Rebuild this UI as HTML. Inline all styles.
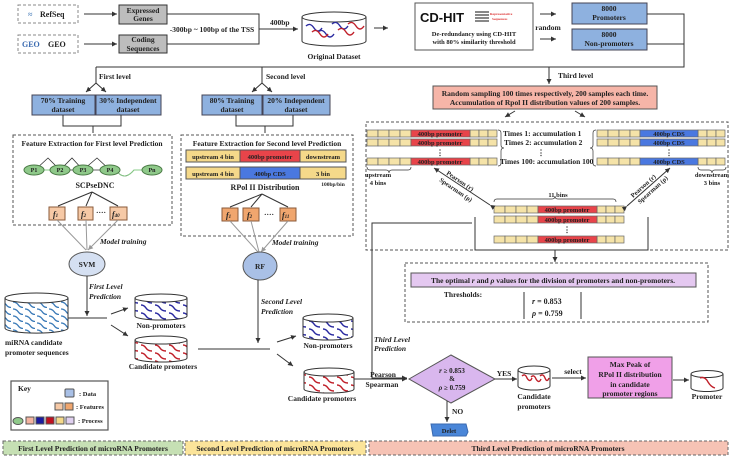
<!DOCTYPE html>
<html><head><meta charset="utf-8"><style>
html,body{margin:0;padding:0;background:#fff;}
svg{display:block;font-family:"Liberation Serif",serif;font-weight:bold;}
</style></head><body>
<svg width="733" height="460" viewBox="0 0 733 460" xmlns="http://www.w3.org/2000/svg">
<defs>
<marker id="a" markerWidth="6" markerHeight="6" refX="5" refY="3" orient="auto"><path d="M0,0.5 L5,3 L0,5.5 Z" fill="#333"/></marker>
<marker id="g" markerWidth="6" markerHeight="6" refX="5" refY="3" orient="auto"><path d="M0,0.5 L5,3 L0,5.5 Z" fill="#999"/></marker>
<pattern id="wb" width="14" height="8" patternUnits="userSpaceOnUse"><path d="M1,1 q3,0 5,3 q2,3 6,3" stroke="#2a2aa0" stroke-width="1.5" fill="none"/></pattern>
<pattern id="wr" width="14" height="8" patternUnits="userSpaceOnUse"><path d="M1,1 q3,0 5,3 q2,3 6,3" stroke="#c0202a" stroke-width="1.5" fill="none"/></pattern>
<pattern id="wl" width="12" height="7" patternUnits="userSpaceOnUse"><path d="M1,1 q3,0 5,2.5 q2,3 5,3" stroke="#3a7ab8" stroke-width="1.3" fill="none"/></pattern>
</defs>
<g font-size="7.5" fill="#222">
<!-- top sources -->
<rect x="18" y="5" width="60" height="18" fill="none" stroke="#888" stroke-dasharray="3,2"/>
<text x="28" y="17" fill="#5a8ac0" font-size="8">≈</text><text x="40" y="17" font-size="8">RefSeq</text>
<rect x="18" y="35" width="60" height="18" fill="none" stroke="#888" stroke-dasharray="3,2"/>
<text x="22" y="47" fill="#3a6ab0" font-size="8">GEO</text><text x="48" y="47" font-size="8">GEO</text>
<line x1="84" y1="14" x2="117" y2="14" stroke="#333" marker-end="url(#a)"/>
<line x1="84" y1="44" x2="117" y2="44" stroke="#333" marker-end="url(#a)"/>
<rect x="119" y="5" width="48" height="19" fill="#bdbdbd" stroke="#333"/>
<text x="143" y="13" text-anchor="middle">Expressed</text><text x="143" y="21" text-anchor="middle">Genes</text>
<rect x="119" y="35" width="48" height="18" fill="#bdbdbd" stroke="#333"/>
<text x="143" y="42" text-anchor="middle">Coding</text><text x="143" y="51" text-anchor="middle">Sequences</text>
<path d="M167,14 H259 V44 H167" fill="none" stroke="#333"/>
<rect x="168" y="25" width="90" height="9" fill="#fff"/>
<text x="212" y="32" text-anchor="middle">-300bp ~ 100bp of the TSS</text>
<line x1="259" y1="29" x2="298" y2="29" stroke="#333" marker-end="url(#a)"/>
<text x="270" y="25">400bp</text>
<!-- original dataset cylinder -->
<path d="M302,17 V41 A32,5 0 0 0 366,41 V17" fill="#fff" stroke="#333"/>
<ellipse cx="334" cy="17" rx="32" ry="5" fill="#fff" stroke="#333"/>
<path d="M306,26 q4,-4 8,2 q4,6 8,0 M318,32 q4,-4 8,2 q4,6 8,0 M332,24 q4,-4 8,2 q4,6 8,0" stroke="#2a2aa0" stroke-width="1.4" fill="none"/>
<path d="M312,32 q4,-4 8,2 q4,6 8,0 M338,30 q4,-4 8,2 q4,6 8,0 M348,24 q4,-4 8,2 q4,6 8,0" stroke="#c0202a" stroke-width="1.4" fill="none"/>
<text x="334" y="59" text-anchor="middle">Original Dataset</text>
<line x1="374" y1="28" x2="388" y2="28" stroke="#333" marker-end="url(#a)"/>
<!-- CD-HIT -->
<rect x="415" y="3" width="118" height="47" fill="#fff" stroke="#555"/>
<text x="420" y="22" font-family="Liberation Sans,sans-serif" font-size="13" fill="#111">CD-HIT</text>
<g fill="#888"><rect x="475" y="11" width="14" height="2"/><rect x="475" y="14" width="14" height="2"/><rect x="475" y="17" width="14" height="2"/><rect x="475" y="20" width="14" height="2"/></g>
<text x="490" y="15" font-size="3.5" fill="#d33">Representative</text><text x="492" y="20" font-size="3.5" fill="#d33">Sequences</text>
<text x="474" y="36" text-anchor="middle" font-size="6.5">De-redundancy using CD-HIT</text>
<text x="474" y="44" text-anchor="middle" font-size="6.5">with 80% similarity threshold</text>
<line x1="540" y1="14" x2="556" y2="14" stroke="#333" marker-end="url(#a)"/>
<line x1="540" y1="39" x2="556" y2="39" stroke="#333" marker-end="url(#a)"/>
<text x="548" y="30" text-anchor="middle">random</text>
<rect x="572" y="3" width="75" height="21" fill="#8eb1df" stroke="#445"/>
<text x="609" y="11" text-anchor="middle">8000</text><text x="609" y="20" text-anchor="middle">Promoters</text>
<rect x="572" y="29" width="75" height="21" fill="#8eb1df" stroke="#445"/>
<text x="609" y="37" text-anchor="middle">8000</text><text x="609" y="46" text-anchor="middle">Non-promoters</text>
<path d="M647,14 H684 V44 H647" fill="none" stroke="#333"/>
<path d="M684,44 V67 H96" fill="none" stroke="#333"/>
<line x1="549" y1="67" x2="549" y2="84" stroke="#333" marker-end="url(#a)"/>
<text x="558" y="78">Third level</text>
<!-- first level -->
<line x1="96" y1="67" x2="96" y2="83" stroke="#333"/>
<line x1="96" y1="83" x2="86" y2="92" stroke="#333" marker-end="url(#a)"/>
<line x1="96" y1="83" x2="106" y2="92" stroke="#333" marker-end="url(#a)"/>
<text x="99" y="79">First level</text>
<rect x="32" y="95" width="63" height="20" fill="#8eb1df" stroke="#445"/>
<text x="63" y="103" text-anchor="middle">70% Training</text><text x="63" y="112" text-anchor="middle">dataset</text>
<rect x="96" y="95" width="65" height="20" fill="#8eb1df" stroke="#445"/>
<text x="128" y="103" text-anchor="middle">30% Independent</text><text x="128" y="112" text-anchor="middle">dataset</text>
<path d="M63,115 V126 H121 V115 M93,126 V133" fill="none" stroke="#333"/>
<!-- second level -->
<line x1="262" y1="67" x2="262" y2="83" stroke="#333"/>
<line x1="262" y1="83" x2="252" y2="92" stroke="#333" marker-end="url(#a)"/>
<line x1="262" y1="83" x2="272" y2="92" stroke="#333" marker-end="url(#a)"/>
<text x="266" y="79">Second level</text>
<rect x="202" y="95" width="60" height="20" fill="#8eb1df" stroke="#445"/>
<text x="232" y="103" text-anchor="middle">80% Training</text><text x="232" y="112" text-anchor="middle">dataset</text>
<rect x="263" y="95" width="67" height="20" fill="#8eb1df" stroke="#445"/>
<text x="296" y="103" text-anchor="middle">20% Independent</text><text x="296" y="112" text-anchor="middle">dataset</text>
<path d="M236,115 V126 H293 V115 M265,126 V133" fill="none" stroke="#333"/>
<!-- feature extraction first -->
<rect x="13" y="135" width="159" height="90" fill="none" stroke="#555" stroke-dasharray="3,2"/>
<text x="92" y="146" text-anchor="middle">Feature Extraction for First level Prediction</text>
<path d="M35,170 L48,158 L60,170 L72,158 L83,170 L97,158 L110,170 M60,170 H110 M116,170 q8,12 18,0 H152" fill="none" stroke="#333" stroke-width="0.8"/>
<path d="M116,170 q8,12 18,0 H152 M35,170 H60" stroke="#8c8" fill="none"/>
<g fill="#8fc98a" stroke="#4a7a45"><ellipse cx="34" cy="170" rx="10" ry="5"/><ellipse cx="60" cy="170" rx="10" ry="5"/><ellipse cx="83" cy="170" rx="10" ry="5"/><ellipse cx="110" cy="170" rx="10" ry="5"/><ellipse cx="152" cy="170" rx="10" ry="5"/></g>
<g font-size="6" text-anchor="middle"><text x="34" y="172">P1</text><text x="60" y="172">P2</text><text x="83" y="172">P3</text><text x="110" y="172">P4</text><text x="152" y="172">Pn</text></g>
<text x="95" y="188" text-anchor="middle" font-size="8">SCPseDNC</text>
<path d="M92,192 L58,206 M92,192 L86,206 M92,192 L118,206" stroke="#333" fill="none"/>
<g fill="#f6c9a6" stroke="#8a5a3a"><rect x="49" y="207" width="16" height="13"/><rect x="78" y="207" width="15" height="13"/><rect x="110" y="207" width="17" height="13"/></g>
<g font-style="italic" font-size="8"><text x="53" y="217">f<tspan font-size="5">1</tspan></text><text x="81" y="217">f<tspan font-size="5">2</tspan></text><text x="112" y="217">f<tspan font-size="5">40</tspan></text></g>
<text x="96" y="215">····</text>
<!-- feature extraction second -->
<rect x="181" y="135" width="172" height="101" fill="none" stroke="#555" stroke-dasharray="3,2"/>
<text x="267" y="146" text-anchor="middle">Feature Extraction for Second level Prediction</text>
<rect x="186" y="150" width="54" height="12" fill="#f5d98a" stroke="#555"/><rect x="240" y="150" width="60" height="12" fill="#e8444a" stroke="#555"/><rect x="300" y="150" width="46" height="12" fill="#f5d98a" stroke="#555"/>
<text x="213" y="159" text-anchor="middle" font-size="6.5">upstream 4 bin</text><text x="270" y="159" text-anchor="middle" font-size="6.5">400bp promoter</text><text x="323" y="159" text-anchor="middle" font-size="6.5">downstream</text>
<rect x="186" y="167" width="54" height="12" fill="#f5d98a" stroke="#555"/><rect x="240" y="167" width="60" height="12" fill="#4a78e0" stroke="#555"/><rect x="300" y="167" width="46" height="12" fill="#f5d98a" stroke="#555"/>
<text x="213" y="176" text-anchor="middle" font-size="6.5">upstream 4 bin</text><text x="270" y="176" text-anchor="middle" font-size="6.5">400bp CDS</text><text x="323" y="176" text-anchor="middle" font-size="6.5">3 bin</text>
<text x="265" y="190" text-anchor="middle" font-size="8">RPol II Distribution</text>
<text x="333" y="186" text-anchor="middle" font-size="5.5">100bp/bin</text>
<path d="M262,194 L230,207 M262,194 L251,207 M262,194 L288,207" stroke="#333" fill="none"/>
<g fill="#f0a66e" stroke="#8a5a3a"><rect x="222" y="208" width="16" height="13"/><rect x="243" y="208" width="16" height="13"/><rect x="280" y="208" width="16" height="13"/></g>
<g font-style="italic" font-size="8"><text x="226" y="218">f<tspan font-size="5">1</tspan></text><text x="247" y="218">f<tspan font-size="5">2</tspan></text><text x="282" y="218">f<tspan font-size="5">11</tspan></text></g>
<text x="264" y="217">····</text>
<!-- model training -->
<path d="M57,220 L86,250 M86,220 L87,250 M118,220 L88,250" stroke="#999" fill="none" marker-end="url(#g)"/>
<path d="M230,221 L258,252 M251,221 L259,252 M288,221 L261,252" stroke="#999" fill="none" marker-end="url(#g)"/>
<text x="100" y="244" font-style="italic">Model training</text>
<text x="272" y="245" font-style="italic">Model training</text>
<ellipse cx="87" cy="264" rx="18" ry="12" fill="#d5e0f2" stroke="#555"/><text x="87" y="267" text-anchor="middle">SVM</text>
<ellipse cx="260" cy="266" rx="17" ry="14" fill="#a9c0e6" stroke="#555"/><text x="260" y="269" text-anchor="middle">RF</text>
<line x1="87" y1="276" x2="87" y2="316" stroke="#333" marker-end="url(#a)"/>
<text x="89" y="289" font-style="italic">First Level</text><text x="89" y="299" font-style="italic">Prediction</text>
<line x1="68" y1="318" x2="107" y2="318" stroke="#333"/>
<line x1="111" y1="314" x2="128" y2="308" stroke="#333" marker-end="url(#a)"/>
<line x1="111" y1="325" x2="128" y2="336" stroke="#333" marker-end="url(#a)"/>
<!-- miRNA cylinder -->
<path d="M5,298 V328 A31,5 0 0 0 68,328 V298" fill="url(#wl)" stroke="#333"/>
<ellipse cx="36.5" cy="298" rx="31.5" ry="5" fill="#fff" stroke="#333"/>
<text x="5" y="345">miRNA candidate</text><text x="5" y="355">promoter sequences</text>
<!-- non-prom 1 -->
<path d="M135,298 V316 A26,4 0 0 0 187,316 V298" fill="url(#wb)" stroke="#333"/>
<ellipse cx="161" cy="298" rx="26" ry="4" fill="#fff" stroke="#333"/>
<text x="161" y="328" text-anchor="middle">Non-promoters</text>
<path d="M135,340 V358 A26,4 0 0 0 187,358 V340" fill="url(#wr)" stroke="#333"/>
<ellipse cx="161" cy="340" rx="26" ry="4" fill="#fff" stroke="#333"/>
<text x="163" y="369" text-anchor="middle">Candidate promoters</text>
<line x1="198" y1="349" x2="270" y2="349" stroke="#333"/>
<line x1="258" y1="280" x2="258" y2="343" stroke="#333" marker-end="url(#a)"/>
<text x="261" y="304" font-style="italic">Second Level</text><text x="261" y="314" font-style="italic">Prediction</text>
<line x1="277" y1="342" x2="296" y2="336" stroke="#333" marker-end="url(#a)"/>
<line x1="277" y1="354" x2="293" y2="366" stroke="#333" marker-end="url(#a)"/>
<path d="M303,318 V336 A25,4 0 0 0 353,336 V318" fill="url(#wb)" stroke="#333"/>
<ellipse cx="328" cy="318" rx="25" ry="4" fill="#fff" stroke="#333"/>
<text x="328" y="348" text-anchor="middle">Non-promoters</text>
<path d="M304,372 V389 A25,4 0 0 0 354,389 V372" fill="url(#wr)" stroke="#333"/>
<ellipse cx="329" cy="372" rx="25" ry="4" fill="#fff" stroke="#333"/>
<text x="322" y="401" text-anchor="middle">Candidate promoters</text>
<line x1="354" y1="379" x2="407" y2="379" stroke="#333" marker-end="url(#a)"/>
<!-- key -->
<rect x="11" y="381" width="97" height="49" fill="#fff" stroke="#555" stroke-width="1.2"/>
<text x="18" y="391">Key</text>
<rect x="65" y="389" width="9" height="8" rx="1" fill="#a9c0e6" stroke="#555"/><text x="79" y="396" font-size="6.5">: Data</text>
<rect x="55" y="403" width="8" height="7" fill="#f6c9a6" stroke="#555"/><rect x="65" y="403" width="8" height="7" fill="#f0a66e" stroke="#555"/><text x="76" y="409" font-size="6.5">: Features</text>
<ellipse cx="18" cy="421" rx="5" ry="3.5" fill="#8fc98a" stroke="#555"/>
<rect x="26" y="417" width="8" height="7" fill="#f4b3a0" stroke="#555"/><rect x="36" y="417" width="8" height="7" fill="#1a1aa0" stroke="#555"/><rect x="46" y="417" width="8" height="7" fill="#c01020" stroke="#555"/><rect x="56" y="417" width="8" height="7" fill="#f5d98a" stroke="#555"/><rect x="66" y="417" width="8" height="7" fill="#e0d0f0" stroke="#555"/>
<text x="78" y="423" font-size="6.5">: Process</text>
<!-- bottom bands -->
<rect x="3" y="441" width="180" height="14" fill="#c6e0b4" stroke="#666" stroke-dasharray="3,2"/>
<text x="93" y="451" text-anchor="middle">First Level Prediction of microRNA Promoters</text>
<rect x="185" y="441" width="181" height="14" fill="#fbe49a" stroke="#666" stroke-dasharray="3,2"/>
<text x="275" y="451" text-anchor="middle">Second Level Prediction of microRNA Promoters</text>
<rect x="369" y="441" width="359" height="14" fill="#f6c3b5" stroke="#666" stroke-dasharray="3,2"/>
<text x="548" y="451" text-anchor="middle">Third Level Prediction of microRNA Promoters</text>
<!-- third level -->
<rect x="433" y="86" width="224" height="23" fill="#f6b5a8" stroke="#555"/>
<text x="545" y="96" text-anchor="middle">Random sampling 100 times respectively, 200 samples each time.</text>
<text x="545" y="105" text-anchor="middle">Accumulation of Rpol II distribution values of 200 samples.</text>
<line x1="515" y1="111" x2="505" y2="117" stroke="#333" marker-end="url(#a)"/>
<line x1="575" y1="111" x2="585" y2="117" stroke="#333" marker-end="url(#a)"/>
<rect x="366" y="122" width="362" height="128" fill="none" stroke="#555" stroke-dasharray="3,2"/>
<g stroke="#666" stroke-width="0.7">
<g fill="#f5e3a8">
<rect x="367" y="130" width="11" height="7"/><rect x="378" y="130" width="11" height="7"/><rect x="389" y="130" width="11" height="7"/><rect x="400" y="130" width="11" height="7"/><rect x="470" y="130" width="9" height="7"/><rect x="479" y="130" width="9" height="7"/><rect x="488" y="130" width="9" height="7"/>
<rect x="367" y="139" width="11" height="7"/><rect x="378" y="139" width="11" height="7"/><rect x="389" y="139" width="11" height="7"/><rect x="400" y="139" width="11" height="7"/><rect x="470" y="139" width="9" height="7"/><rect x="479" y="139" width="9" height="7"/><rect x="488" y="139" width="9" height="7"/>
<rect x="367" y="158" width="11" height="7"/><rect x="378" y="158" width="11" height="7"/><rect x="389" y="158" width="11" height="7"/><rect x="400" y="158" width="11" height="7"/><rect x="470" y="158" width="9" height="7"/><rect x="479" y="158" width="9" height="7"/><rect x="488" y="158" width="9" height="7"/>
<rect x="597" y="130" width="11" height="7"/><rect x="608" y="130" width="11" height="7"/><rect x="619" y="130" width="11" height="7"/><rect x="630" y="130" width="10" height="7"/><rect x="698" y="130" width="9" height="7"/><rect x="707" y="130" width="9" height="7"/><rect x="716" y="130" width="9" height="7"/>
<rect x="597" y="139" width="11" height="7"/><rect x="608" y="139" width="11" height="7"/><rect x="619" y="139" width="11" height="7"/><rect x="630" y="139" width="10" height="7"/><rect x="698" y="139" width="9" height="7"/><rect x="707" y="139" width="9" height="7"/><rect x="716" y="139" width="9" height="7"/>
<rect x="597" y="158" width="11" height="7"/><rect x="608" y="158" width="11" height="7"/><rect x="619" y="158" width="11" height="7"/><rect x="630" y="158" width="10" height="7"/><rect x="698" y="158" width="9" height="7"/><rect x="707" y="158" width="9" height="7"/><rect x="716" y="158" width="9" height="7"/>
<rect x="494" y="206" width="11" height="7"/><rect x="505" y="206" width="11" height="7"/><rect x="516" y="206" width="11" height="7"/><rect x="527" y="206" width="11" height="7"/><rect x="597" y="206" width="9" height="7"/><rect x="606" y="206" width="9" height="7"/><rect x="615" y="206" width="9" height="7"/>
<rect x="494" y="216" width="11" height="7"/><rect x="505" y="216" width="11" height="7"/><rect x="516" y="216" width="11" height="7"/><rect x="527" y="216" width="11" height="7"/><rect x="597" y="216" width="9" height="7"/><rect x="606" y="216" width="9" height="7"/><rect x="615" y="216" width="9" height="7"/>
<rect x="494" y="236" width="11" height="7"/><rect x="505" y="236" width="11" height="7"/><rect x="516" y="236" width="11" height="7"/><rect x="527" y="236" width="11" height="7"/><rect x="597" y="236" width="9" height="7"/><rect x="606" y="236" width="9" height="7"/><rect x="615" y="236" width="9" height="7"/>
</g>
<g fill="#e8444a"><rect x="411" y="130" width="59" height="7"/><rect x="411" y="139" width="59" height="7"/><rect x="411" y="158" width="59" height="7"/><rect x="538" y="206" width="59" height="7"/><rect x="538" y="216" width="59" height="7"/><rect x="538" y="236" width="59" height="7"/></g>
<g fill="#4a78e0"><rect x="640" y="130" width="58" height="7"/><rect x="640" y="139" width="58" height="7"/><rect x="640" y="158" width="58" height="7"/></g>
</g>
<g font-size="6.5" text-anchor="middle"><text x="440" y="136">400bp promoter</text><text x="440" y="145">400bp promoter</text><text x="440" y="164">400bp promoter</text>
<text x="669" y="136">400bp CDS</text><text x="669" y="145">400bp CDS</text><text x="669" y="164">400bp CDS</text>
<text x="567" y="212">400bp promoter</text><text x="567" y="222">400bp promoter</text><text x="567" y="242">400bp promoter</text></g>
<text x="440" y="155" text-anchor="middle">⋮</text><text x="669" y="155" text-anchor="middle">⋮</text><text x="567" y="232" text-anchor="middle">⋮</text>
<path d="M498,130 q3,0 3,3 v12 q0,3 3,3 q-3,0 -3,3 v12 q0,3 -3,3 M596,130 q-3,0 -3,3 v12 q0,3 -3,3 q3,0 3,3 v12 q0,3 3,3" fill="none" stroke="#333" stroke-width="0.7"/>
<text x="503" y="136">Times 1: accumulation 1</text>
<text x="504" y="145">Times 2: accumulation 2</text>
<text x="541" y="155" text-anchor="middle">⋮</text>
<text x="500" y="164">Times 100: accumulation 100</text>
<path d="M367,167 q0,3 3,3 h16 q3,0 3,3 q0,-3 3,-3 h16 q3,0 3,-3 M698,167 q0,3 3,3 h8 q3,0 3,3 q0,-3 3,-3 h8 q3,0 3,-3 M494,202 q0,-3 3,-3 h55 q3,0 3,-3 q0,3 3,3 h55 q3,0 3,3" fill="none" stroke="#333" stroke-width="0.7"/>
<text x="378" y="177" text-anchor="middle" font-size="6.5">upstream</text><text x="378" y="185" text-anchor="middle" font-size="6.5">4 bins</text>
<text x="712" y="177" text-anchor="middle" font-size="6.5">downstream</text><text x="712" y="185" text-anchor="middle" font-size="6.5">3 bins</text>
<text x="558" y="197" text-anchor="middle" font-size="6.5">11 bins</text>
<line x1="490" y1="205" x2="434" y2="168" stroke="#333" marker-start="url(#a)" marker-end="url(#a)"/>
<line x1="627" y1="206" x2="670" y2="168" stroke="#333" marker-start="url(#a)" marker-end="url(#a)"/>
<text transform="translate(446,174) rotate(34)" font-size="6.5">Pearson (r)</text>
<text transform="translate(439,181) rotate(34)" font-size="6.5">Spearman (ρ)</text>
<text transform="translate(633,198) rotate(-42)" font-size="6.5">Pearson (r)</text>
<text transform="translate(640,204) rotate(-42)" font-size="6.5">Spearman (ρ)</text>
<path d="M475,217 V250 H648 V217" fill="none" stroke="#333"/>
<line x1="555" y1="250" x2="555" y2="262" stroke="#333" marker-end="url(#a)"/>
<path d="M472,223 H372 V378 H407" fill="none" stroke="#333" marker-end="url(#a)"/>
<!-- thresholds -->
<rect x="405" y="263" width="303" height="59" fill="none" stroke="#555" stroke-dasharray="3,2"/>
<rect x="411" y="273" width="285" height="14" fill="#e4c8f0" stroke="#555"/>
<text x="553" y="283" text-anchor="middle">The optimal <tspan font-style="italic">r</tspan> and <tspan font-style="italic">ρ</tspan> values for the division of promoters and non-promoters.</text>
<text x="463" y="297" text-anchor="middle">Thresholds:</text>
<line x1="524" y1="292" x2="524" y2="319" stroke="#333"/><line x1="581" y1="292" x2="581" y2="319" stroke="#333"/>
<text x="532" y="304" font-size="8"><tspan font-style="italic">r</tspan> = 0.853</text>
<text x="532" y="316" font-size="8"><tspan font-style="italic">ρ</tspan> = 0.759</text>
<text x="374" y="342" font-style="italic">Third Level</text><text x="374" y="351" font-style="italic">Prediction</text>
<text x="383" y="377" text-anchor="middle">Pearson</text><text x="382" y="387" text-anchor="middle">Spearman</text>
<!-- diamond -->
<polygon points="409,379 451,355 495,379 451,403" fill="#d9b7ee" stroke="#555"/>
<text x="452" y="373" text-anchor="middle" font-size="7"><tspan font-style="italic">r</tspan> ≥ 0.853</text>
<text x="452" y="381" text-anchor="middle" font-size="7">&amp;</text>
<text x="452" y="390" text-anchor="middle" font-size="7"><tspan font-style="italic">ρ</tspan> ≥ 0.759</text>
<line x1="447" y1="401" x2="447" y2="422" stroke="#333" marker-end="url(#a)"/>
<text x="452" y="414">NO</text>
<path d="M431,424 H466 L468,432 L466,436 H433 Z" fill="#4a86d8" stroke="#3a6ab0"/>
<text x="449" y="433" text-anchor="middle" font-size="6.5">Delet</text>
<line x1="495" y1="379" x2="517" y2="379" stroke="#333" marker-end="url(#a)"/>
<text x="504" y="376" text-anchor="middle">YES</text>
<path d="M518,370 V386 A16,4 0 0 0 550,386 V370" fill="#fff" stroke="#333"/>
<ellipse cx="534" cy="370" rx="16" ry="4" fill="#fff" stroke="#333"/>
<path d="M522,376 q3,-3 5,2 q3,5 5,0 M531,377 q3,-3 5,2 q3,5 5,0 M540,376 q3,-3 5,2 q2,5 4,0" stroke="#c0202a" stroke-width="1.4" fill="none"/>
<text x="534" y="399" text-anchor="middle">Candidate</text><text x="534" y="409" text-anchor="middle">promoters</text>
<line x1="552" y1="378" x2="586" y2="378" stroke="#333" marker-end="url(#a)"/>
<text x="573" y="374" text-anchor="middle">select</text>
<rect x="588" y="357" width="84" height="41" fill="#f0a0e8" stroke="#555"/>
<text x="630" y="367" text-anchor="middle">Max Peak of</text><text x="630" y="377" text-anchor="middle">RPol II distribution</text><text x="630" y="387" text-anchor="middle">in candidate</text><text x="630" y="396" text-anchor="middle">promoter regions</text>
<line x1="673" y1="380" x2="689" y2="380" stroke="#333" marker-end="url(#a)"/>
<path d="M691,374 V388 A16,3.5 0 0 0 723,388 V374" fill="#fff" stroke="#333"/>
<ellipse cx="707" cy="374" rx="16" ry="3.5" fill="#fff" stroke="#333"/>
<path d="M700,378 q5,-2 8,4 q3,5 7,6" stroke="#c0202a" stroke-width="1.4" fill="none"/>
<text x="707" y="399" text-anchor="middle">Promoter</text>
</g>
</svg>
</body></html>
